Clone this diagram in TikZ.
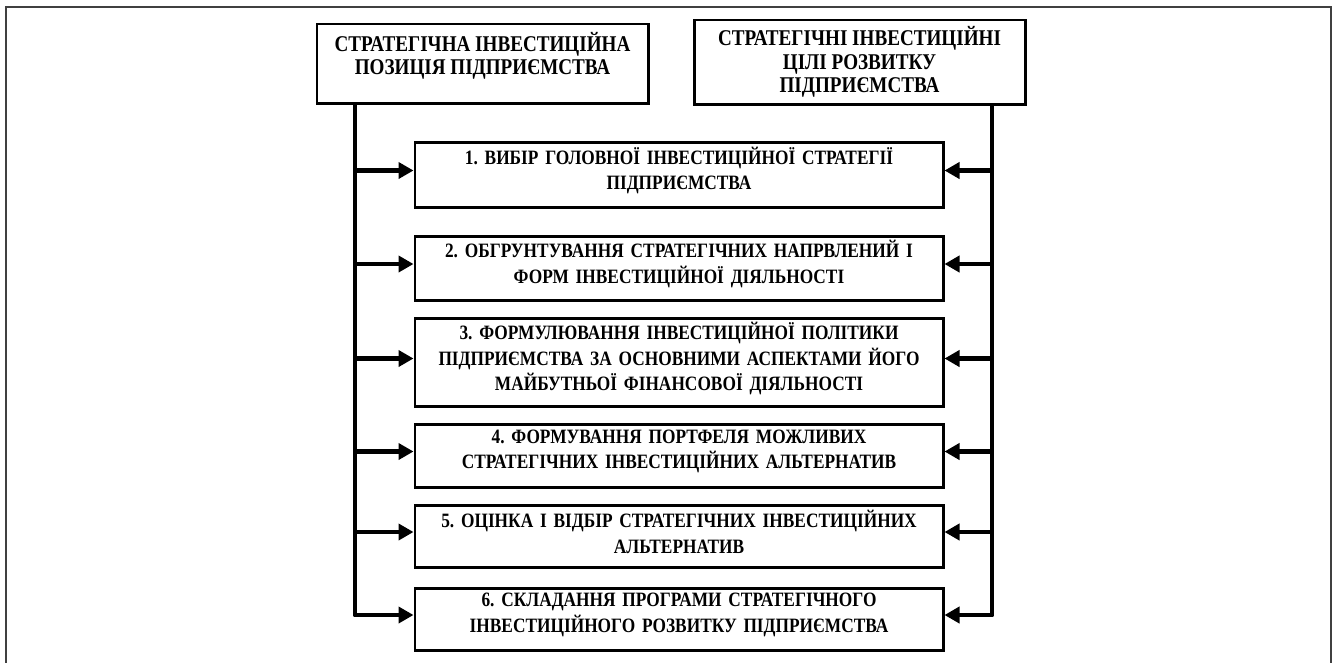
\documentclass[tikz,border=0pt]{standalone}
\usepackage{fontspec}
\setmainfont{Liberation Serif}[FakeStretch=0.85]
\usetikzlibrary{arrows.meta}
\frenchspacing

\tikzset{
  frame/.style={draw=black!75, line width=1.1pt},
  topbox/.style={draw, line width=1.7pt, align=center, inner sep=2pt,
    font=\bfseries\fontsize{12.8}{13.4}\selectfont},
  stepbox/.style={draw, line width=1.7pt, align=center, inner sep=2pt,
    minimum width=10.56cm, text width=10.3cm,
    font=\bfseries\fontsize{11.6}{14.6}\selectfont,
    execute at end node={\par\vspace{1.6mm}}},
  bus/.style={line width=2.8pt, line join=round},
  feed/.style={bus, -{Triangle[length=0.3cm,width=0.32cm]}},
}

\begin{document}
\begin{tikzpicture}
  \useasboundingbox (0,0) rectangle (26.76,-13.24);
  \draw[frame] (0.12,-13.3) -- (0.12,-0.14) -- (26.62,-0.14) -- (26.62,-13.3);

  % upper boxes
  \node[topbox, minimum width=6.62cm, minimum height=1.58cm, text depth=0.4cm] (pos) at (9.65,-1.27)
    {СТРАТЕГІЧНА ІНВЕСТИЦІЙНА\\ПОЗИЦІЯ ПІДПРИЄМСТВА};
  \node[topbox, minimum width=6.62cm, minimum height=1.68cm] (goals) at (17.19,-1.24)
    {СТРАТЕГІЧНІ ІНВЕСТИЦІЙНІ\\ЦІЛІ РОЗВИТКУ\\ПІДПРИЄМСТВА};

  % steps
  \node[stepbox, minimum height=1.30cm] (s1) at (13.58,-3.49)
    {1. ВИБІР ГОЛОВНОЇ ІНВЕСТИЦІЙНОЇ СТРАТЕГІЇ\\ПІДПРИЄМСТВА};
  \node[stepbox, minimum height=1.28cm] (s2) at (13.58,-5.36)
    {2. ОБГРУНТУВАННЯ СТРАТЕГІЧНИХ НАПРВЛЕНИЙ І\\ФОРМ ІНВЕСТИЦІЙНОЇ ДІЯЛЬНОСТІ};
  \node[stepbox, minimum height=1.70cm] (s3) at (13.58,-7.25)
    {3. ФОРМУЛЮВАННЯ ІНВЕСТИЦІЙНОЇ ПОЛІТИКИ\\ПІДПРИЄМСТВА ЗА ОСНОВНИМИ АСПЕКТАМИ ЙОГО\\МАЙБУТНЬОЇ ФІНАНСОВОЇ ДІЯЛЬНОСТІ};
  \node[stepbox, minimum height=1.26cm] (s4) at (13.58,-9.11)
    {4. ФОРМУВАННЯ ПОРТФЕЛЯ МОЖЛИВИХ\\СТРАТЕГІЧНИХ ІНВЕСТИЦІЙНИХ АЛЬТЕРНАТИВ};
  \node[stepbox, minimum height=1.24cm] (s5) at (13.58,-10.72)
    {5. ОЦІНКА І ВІДБІР СТРАТЕГІЧНИХ ІНВЕСТИЦІЙНИХ\\АЛЬТЕРНАТИВ};
  \node[stepbox, minimum height=1.24cm] (s6) at (13.58,-12.38)
    {6. СКЛАДАННЯ ПРОГРАМИ СТРАТЕГІЧНОГО\\ІНВЕСТИЦІЙНОГО РОЗВИТКУ ПІДПРИЄМСТВА};

  % buses
  \coordinate (lbus) at (7.1,0);
  \coordinate (rbus) at (19.84,0);
  \draw[feed] (lbus |- pos.south) |- ([yshift=0.8mm]s6.west);
  \draw[feed] (rbus |- goals.south) |- ([yshift=0.8mm]s6.east);
  \foreach \i in {1,...,5} {
    \draw[feed] ([yshift=0.8mm]s\i.west -| lbus) -- ([yshift=0.8mm]s\i.west);
    \draw[feed] ([yshift=0.8mm]s\i.east -| rbus) -- ([yshift=0.8mm]s\i.east);
  }
\end{tikzpicture}
\end{document}
